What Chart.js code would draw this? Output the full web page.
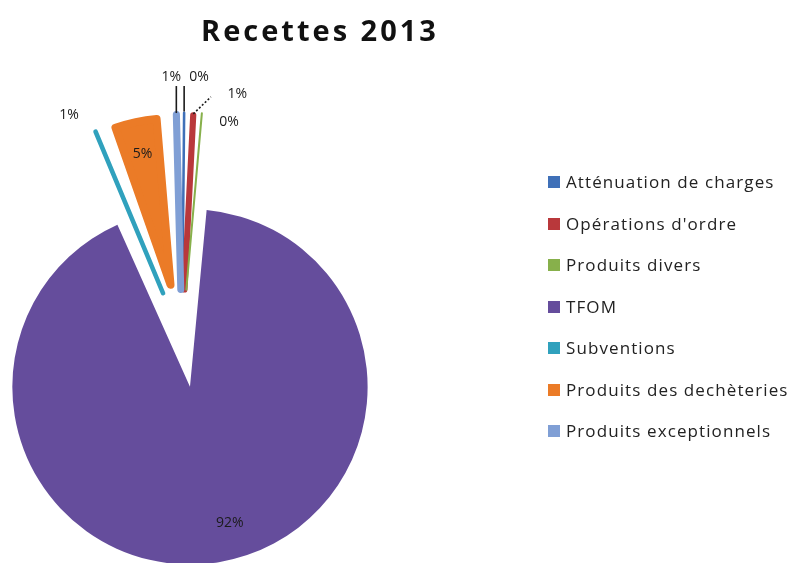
<!DOCTYPE html>
<html lang="fr">
<head>
<meta charset="utf-8">
<title>Recettes 2013</title>
<script src="https://cdn.jsdelivr.net/npm/chart.js@4.4.1/dist/chart.umd.min.js"></script>
<style>
  html, body { margin: 0; padding: 0; background: #fff; }
  #wrap { position: relative; width: 795px; height: 563px; overflow: hidden; }
  #pie { position: absolute; left: 0; top: 0; }
  #title {
    position: absolute; left: 120px; width: 400px; top: 10px;
    text-align: center; font: 700 29px "Open Sans", sans-serif;
    color: #111; letter-spacing: 3px;
  }
  #legend {
    position: absolute; left: 548px; top: 161px; margin: 0; padding: 0;
    list-style: none; font: 17px "Open Sans", sans-serif; color: #222;
    letter-spacing: 1.1px;
  }
  #legend li { height: 41.5px; line-height: 41.5px; white-space: nowrap; }
  #legend span {
    display: inline-block; width: 12px; height: 12px;
    margin-right: 6px; vertical-align: middle; position: relative; top: -1px;
  }
</style>
</head>
<body>
<div id="wrap">
  <canvas id="pie" width="795" height="563"></canvas>
  <div id="title">Recettes 2013</div>
  <ul id="legend"></ul>
</div>
<script>
(function () {
  "use strict";

  // données (en %)
  var labels = ["Atténuation de charges", "Opérations d'ordre", "Produits divers", "TFOM",
                "Subventions", "Produits des dechèteries", "Produits exceptionnels"];
  var shares = [0.3, 1.0, 0.2, 91.8, 0.8, 5.1, 0.8];
  var colors = ["#3f70b8", "#b9383b", "#87b04b", "#654d9c", "#30a1bd", "#eb7b27", "#809fd5"];

  // éclatement de chaque part (Chart.js déplace de offset / 4)
  var offsets = [196, 196, 196, 196, 196, 220, 196];
  // les parts très fines sont rétrécies par l'éclatement : on les épaissit par un trait
  var strokes = [2.5, 6, 2, 0, 4.5, 8, 7];

  // placement des étiquettes
  var labelLayout = [
    { dx: 15, dy: -34, leader: { fx: 0, fy: 0.75 } },
    { dx: 44, dy: -20, leader: { fx: 0.4, fy: 0.85, dash: true } },
    { dx: 27, dy: 10 },
    { inside: 0.79, turn: -7 },
    { dx: -26, dy: -15 },
    { inside: 0.8, turn: 0 },
    { dx: -5, dy: -36, leader: { fx: 0, fy: 0.75 } }
  ];

  var pctLabels = {
    id: "pctLabels",
    afterDatasetsDraw: function (chart) {
      var ctx = chart.ctx;
      var meta = chart.getDatasetMeta(0);
      var data = chart.data.datasets[0].data;
      var total = data.reduce(function (a, b) { return a + b; }, 0);

      ctx.save();
      ctx.font = "14px 'Open Sans', sans-serif";
      ctx.fillStyle = "#1b1b1b";
      ctx.strokeStyle = "#1b1b1b";
      ctx.textAlign = "center";
      ctx.textBaseline = "middle";

      meta.data.forEach(function (arc, i) {
        var p = arc.getProps(["x", "y", "startAngle", "endAngle", "outerRadius", "circumference"], true);
        var shift = (arc.options.offset || 0) / 4;
        var mid = (p.startAngle + p.endAngle) / 2;
        var cx = p.x + Math.cos(mid) * shift;
        var cy = p.y + Math.sin(mid) * shift;
        var r = p.outerRadius + shift * (1 - Math.sin(Math.min(Math.PI, p.circumference)));
        var lay = labelLayout[i];
        var lx, ly;

        if (lay.inside) {
          var a = mid + lay.turn * Math.PI / 180;
          lx = cx + Math.cos(a) * r * lay.inside;
          ly = cy + Math.sin(a) * r * lay.inside;
        } else {
          var ex = cx + Math.cos(mid) * r;
          var ey = cy + Math.sin(mid) * r;
          lx = ex + lay.dx;
          ly = ey + lay.dy;
          if (lay.leader) {
            ctx.beginPath();
            ctx.lineWidth = 1.6;
            ctx.setLineDash(lay.leader.dash ? [2, 2] : []);
            ctx.moveTo(ex, ey);
            ctx.lineTo(ex + lay.dx * lay.leader.fx, ey + lay.dy * lay.leader.fy);
            ctx.stroke();
          }
        }
        ctx.fillText(Math.round(data[i] / total * 100) + "%", lx, ly);
      });
      ctx.restore();
    }
  };

  new Chart(document.getElementById("pie").getContext("2d"), {
    type: "pie",
    data: {
      labels: labels,
      datasets: [{
        data: shares,
        backgroundColor: colors,
        borderColor: colors,
        borderWidth: strokes,
        borderJoinStyle: "round",
        offset: offsets,
        hoverOffset: 0,
        spacing: -2.7, // compense le rognage angulaire de l'éclatement
        clip: false
      }]
    },
    options: {
      responsive: false,
      animation: false,
      radius: 130,
      rotation: 0,
      layout: { padding: { left: 0, right: 431, top: 130, bottom: 16 } },
      plugins: {
        legend: { display: false },
        title: { display: false },
        tooltip: { enabled: false }
      },
      events: []
    },
    plugins: [pctLabels]
  });

  // légende
  var ul = document.getElementById("legend");
  labels.forEach(function (name, i) {
    var li = document.createElement("li");
    var box = document.createElement("span");
    box.style.background = colors[i];
    li.appendChild(box);
    li.appendChild(document.createTextNode(name));
    ul.appendChild(li);
  });
})();
</script>
</body>
</html>
